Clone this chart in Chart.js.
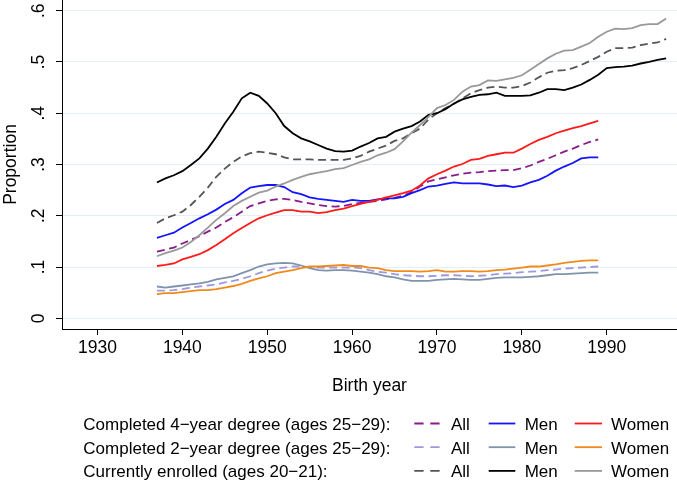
<!DOCTYPE html>
<html><head><meta charset="utf-8">
<script src="https://cdn.jsdelivr.net/npm/chart.js@4"></script>
<style>html,body{margin:0;padding:0;background:#fff}#wrap{width:677px;height:493px;position:relative}canvas{display:block}</style>
</head><body><div id="wrap"><canvas id="c" width="677" height="493"></canvas></div>
<script>
const years4 = [1937,1938,1939,1940,1941,1942,1943,1944,1945,1946,1947,1948,1949,1950,1951,1952,1953,1954,1955,1956,1957,1958,1959,1960,1961,1962,1963,1964,1965,1966,1967,1968,1969,1970,1971,1972,1973,1974,1975,1976,1977,1978,1979,1980,1981,1982,1983,1984,1985,1986,1987,1988,1989];
const yearsE = [1937,1938,1939,1940,1941,1942,1943,1944,1945,1946,1947,1948,1949,1950,1951,1952,1953,1954,1955,1956,1957,1958,1959,1960,1961,1962,1963,1964,1965,1966,1967,1968,1969,1970,1971,1972,1973,1974,1975,1976,1977,1978,1979,1980,1981,1982,1983,1984,1985,1986,1987,1988,1989,1990,1991,1992,1993,1994,1995,1996,1997];

const deg4All = [0.130,0.134,0.138,0.146,0.153,0.160,0.169,0.177,0.188,0.197,0.208,0.219,0.224,0.229,0.232,0.233,0.231,0.227,0.224,0.221,0.219,0.218,0.219,0.223,0.225,0.227,0.229,0.232,0.235,
 0.239,0.246,0.257,0.267,0.271,0.275,0.279,0.282,0.284,0.285,0.287,0.288,0.289,0.289,0.293,0.298,0.305,0.311,0.318,0.325,0.331,0.338,0.344,0.349];
const deg4Men = [0.157,0.162,0.167,0.177,0.186,0.195,0.203,0.212,0.223,0.231,0.244,0.255,0.258,0.260,0.260,0.256,0.246,0.242,0.236,0.233,0.231,0.229,0.227,0.231,0.229,0.229,0.232,0.234,0.234,
 0.237,0.244,0.250,0.257,0.259,0.262,0.265,0.263,0.263,0.263,0.261,0.258,0.259,0.256,0.259,0.265,0.270,0.278,0.288,0.296,0.303,0.312,0.314,0.314];
const deg4Women = [0.102,0.104,0.107,0.115,0.120,0.125,0.133,0.143,0.154,0.166,0.176,0.186,0.195,0.201,0.206,0.211,0.211,0.208,0.208,0.205,0.207,0.211,0.214,0.219,0.223,0.227,0.231,0.236,0.240,
 0.244,0.249,0.259,0.273,0.281,0.288,0.296,0.301,0.309,0.311,0.317,0.320,0.323,0.323,0.331,0.340,0.348,0.354,0.361,0.366,0.371,0.375,0.380,0.385];

const deg2All = [0.054,0.054,0.055,0.057,0.060,0.062,0.064,0.066,0.070,0.073,0.077,0.082,0.088,0.093,0.097,0.099,0.101,0.101,0.099,0.099,0.099,0.099,0.099,0.099,0.098,0.094,0.091,0.089,0.086,
 0.084,0.083,0.082,0.082,0.083,0.084,0.084,0.083,0.082,0.083,0.084,0.086,0.087,0.088,0.090,0.091,0.092,0.094,0.095,0.097,0.098,0.099,0.100,0.101];
const deg2Men = [0.062,0.060,0.062,0.064,0.066,0.068,0.071,0.076,0.079,0.082,0.088,0.094,0.101,0.105,0.107,0.108,0.107,0.103,0.098,0.094,0.093,0.094,0.094,0.093,0.091,0.089,0.086,0.082,0.080,
 0.076,0.073,0.073,0.073,0.075,0.076,0.077,0.076,0.075,0.075,0.077,0.079,0.080,0.080,0.080,0.081,0.082,0.084,0.086,0.086,0.087,0.088,0.089,0.089];
const deg2Women = [0.047,0.049,0.049,0.051,0.053,0.055,0.055,0.057,0.060,0.063,0.067,0.073,0.078,0.082,0.088,0.091,0.094,0.098,0.101,0.101,0.102,0.103,0.104,0.102,0.102,0.099,0.098,0.094,0.092,
 0.092,0.092,0.091,0.092,0.094,0.091,0.091,0.092,0.092,0.091,0.092,0.094,0.095,0.097,0.099,0.101,0.101,0.103,0.105,0.108,0.110,0.112,0.113,0.113];

const enrAll = [0.186,0.195,0.201,0.208,0.221,0.237,0.255,0.276,0.292,0.305,0.316,0.322,0.325,0.323,0.320,0.314,0.310,0.310,0.310,0.309,0.309,0.309,0.309,0.312,0.317,0.325,0.331,0.337,0.346,
 0.351,0.361,0.370,0.388,0.400,0.410,0.418,0.429,0.439,0.445,0.450,0.452,0.450,0.450,0.453,0.460,0.470,0.479,0.483,0.484,0.488,0.494,0.502,0.510,0.520,0.527,0.527,0.528,0.533,0.536,0.538,0.545];
const enrMen = [0.265,0.273,0.279,0.287,0.299,0.312,0.331,0.354,0.380,0.403,0.429,0.440,0.434,0.419,0.400,0.375,0.361,0.351,0.345,0.338,0.331,0.326,0.325,0.327,0.335,0.342,0.351,0.354,0.364,
 0.370,0.375,0.384,0.397,0.400,0.408,0.419,0.427,0.432,0.436,0.437,0.440,0.434,0.434,0.434,0.435,0.440,0.447,0.447,0.445,0.450,0.456,0.465,0.475,0.488,0.490,0.491,0.493,0.497,0.500,0.504,0.507];
const enrWomen = [0.121,0.127,0.132,0.138,0.149,0.162,0.177,0.192,0.205,0.219,0.229,0.237,0.245,0.249,0.257,0.263,0.270,0.276,0.281,0.284,0.287,0.291,0.293,0.299,0.305,0.310,0.318,0.323,0.330,
 0.345,0.362,0.377,0.393,0.410,0.416,0.426,0.442,0.452,0.455,0.464,0.463,0.466,0.469,0.474,0.485,0.496,0.507,0.516,0.522,0.523,0.530,0.537,0.549,0.559,0.565,0.564,0.566,0.572,0.574,0.574,0.585];

const xTicks = [1930,1940,1950,1960,1970,1980,1990];
const yTicks = [0,0.1,0.2,0.3,0.4,0.5,0.6];
const yTickLabels = ['0','.1','.2','.3','.4','.5','.6'];
const groupLabels = ['Completed 4\u2212year degree (ages 25\u221229):','Completed 2\u2212year degree (ages 25\u221229):','Currently enrolled (ages 20\u221221):'];
const seriesLabels = ['All','Men','Women'];
const xTitle = 'Birth year';
const yTitle = 'Proportion';

const FONT = '"Liberation Sans", Arial, Helvetica, sans-serif';
const DASH = [8,4.5];
function pts(xs, ys){ return ys.map((v,i)=>({x:xs[i], y:v})); }
function ds(label, xs, ys, color, dashed, grp, idx){
  return {label, data: pts(xs,ys), borderColor: color, backgroundColor: color, borderWidth: 1.8,
    borderDash: dashed ? DASH : [], pointRadius: 0, tension: 0, fill: false, grp, idx};
}
const datasets = [
  ds('4yr All', years4, deg4All, '#8a1c8a', true, 0, 0),
  ds('4yr Men', years4, deg4Men, '#1414ff', false, 0, 1),
  ds('4yr Women', years4, deg4Women, '#ff1a1a', false, 0, 2),
  ds('2yr All', years4, deg2All, '#9d98e0', true, 1, 0),
  ds('2yr Men', years4, deg2Men, '#8093ad', false, 1, 1),
  ds('2yr Women', years4, deg2Women, '#ef8a1b', false, 1, 2),
  ds('Enr All', yearsE, enrAll, '#555555', true, 2, 0),
  ds('Enr Men', yearsE, enrMen, '#000000', false, 2, 1),
  ds('Enr Women', yearsE, enrWomen, '#999999', false, 2, 2)
];
datasets.forEach((d,i)=>{ d.order = datasets.length - i; });

const textPlugin = {
  id: 'stataText',
  afterDraw(chart){
    const ctx = chart.ctx, xs = chart.scales.x, ys = chart.scales.y;
    ctx.save();
    ctx.fillStyle = '#000';
    ctx.font = '17.5px ' + FONT;
    ctx.textAlign = 'center'; ctx.textBaseline = 'alphabetic';
    xTicks.forEach(v => ctx.fillText(String(v), xs.getPixelForValue(v), 352.7));
    ctx.fillText(xTitle, (chart.chartArea.left + chart.chartArea.right)/2, 391);
    yTicks.forEach((v,i) => {
      ctx.save(); ctx.translate(43.5, ys.getPixelForValue(v)); ctx.rotate(-Math.PI/2);
      ctx.fillText(yTickLabels[i], 0, 0); ctx.restore();
    });
    ctx.save(); ctx.translate(15.5, (chart.chartArea.top + chart.chartArea.bottom)/2); ctx.rotate(-Math.PI/2);
    ctx.fillText(yTitle, 0, 0); ctx.restore();
    // legend
    ctx.font = '17px ' + FONT;
    ctx.textAlign = 'left';
    const rowBase = [430, 453.7, 477.4];
    const symX = [[414.3,439.7],[488.7,515.3],[574.7,602]];
    const txtX = [451, 524.7, 611];
    groupLabels.forEach((g,r) => {
      ctx.fillStyle = '#000';
      ctx.fillText(g, 83.3, rowBase[r]);
      chart.data.datasets.filter(d=>d.grp===r).forEach(d => {
        const k = d.idx, ly = rowBase[r] - 6.5;
        ctx.save();
        ctx.strokeStyle = d.borderColor; ctx.lineWidth = d.borderWidth;
        ctx.setLineDash(d.borderDash.length ? [9.3,6.7] : []);
        ctx.beginPath(); ctx.moveTo(symX[k][0], ly); ctx.lineTo(symX[k][1], ly); ctx.stroke();
        ctx.restore();
        ctx.fillStyle = '#000';
        ctx.fillText(seriesLabels[k], txtX[k], rowBase[r]);
      });
    });
    ctx.restore();
  }
};

new Chart(document.getElementById('c'), {
  type: 'line',
  data: { datasets },
  options: {
    responsive: false, animation: false, devicePixelRatio: 1,
    layout: { padding: 0 },
    plugins: { legend: { display: false }, tooltip: { enabled: false } },
    scales: {
      x: {
        type: 'linear', position: 'bottom', min: 1925.817, max: 1998.28,
        afterBuildTicks: s => { s.ticks = xTicks.map(v => ({ value: v })); },
        afterFit: s => { s.height = 493 - 329; },
        grid: { drawOnChartArea: false, drawTicks: true, tickLength: 6, tickColor: '#000', tickWidth: 1 },
        border: { display: true, color: '#000', width: 1 },
        ticks: { display: false }
      },
      y: {
        type: 'linear', position: 'left', min: -0.02087, max: 0.62087,
        afterBuildTicks: s => { s.ticks = yTicks.map(v => ({ value: v })); },
        afterFit: s => { s.width = 62; },
        grid: { drawOnChartArea: true, color: '#e5eef2', lineWidth: 1, drawTicks: true, tickLength: 6, tickColor: '#000', tickWidth: 1 },
        border: { display: true, color: '#000', width: 1 },
        ticks: { display: false }
      }
    }
  },
  plugins: [textPlugin]
});
</script>
</body></html>
